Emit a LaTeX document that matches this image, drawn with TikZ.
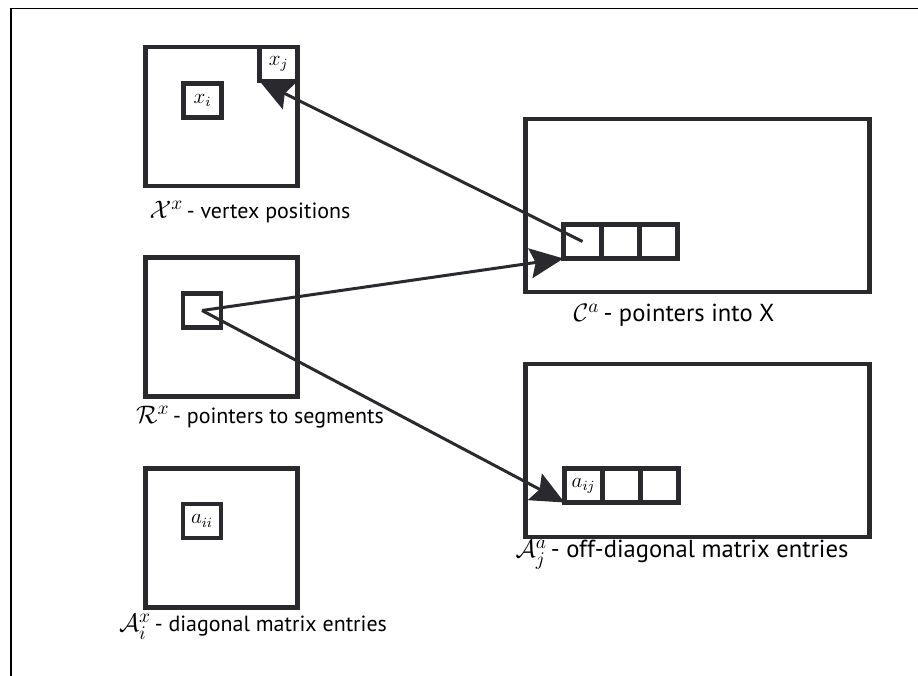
\documentclass[tikz,border=0pt]{standalone}
\usepackage{amsmath,amssymb}
\usepackage{fontspec}
\setmainfont{PT Sans}
\usepackage{tikz}
\usetikzlibrary{positioning,arrows.meta}
\definecolor{ink}{HTML}{2A2A2E}
\newcommand{\setname}[1]{{\fontsize{15.5}{16}\selectfont$#1$}}

\begin{document}
\begin{tikzpicture}[
  boxline/.style={draw=ink,line width=2.8pt,inner sep=0pt,outer sep=0pt},
  store/.style={boxline,minimum width=3.04cm,minimum height=2.78cm},
  arraybox/.style={boxline,minimum width=6.88cm,minimum height=3.46cm},
  cell/.style={boxline,line width=2.4pt,minimum width=.76cm,minimum height=.68cm,font=\fontsize{12}{12}\selectfont},
  lbl/.style={font=\fontsize{12.5}{14}\selectfont,inner sep=0pt},
  widelbl/.style={lbl,font=\fontsize{14}{16}\selectfont},
  ptr/.style={draw=ink,line width=1.7pt,-{Stealth[length=19pt,width=17pt,inset=3pt]}}]
\useasboundingbox (0,0) rectangle (18.36,13.52);
\draw[black,line width=1.1pt] (18.36,13.35)--(.22,13.35)--(.22,0);
% vertex side
\node[store] (X) at (4.43,11.19) {};\node[cell] (xi) at (4.05,11.51) {$x_i$};
\node[cell,anchor=north east] (xj) at (X.north east) {$x_j$};
\node[store] (R) at (4.43,6.98) {};\node[cell] (ri) at (4.04,7.31) {};
\node[store] (Ai) at (4.43,2.76) {};\node[cell] (aii) at (4.04,3.10) {$a_{ii}$};
\node[lbl] (Xl) at (5.0,9.28) {\setname{\mathcal{X}^x}\,- vertex positions};
\node[lbl] (Rl) at (5.2,5.18) {\setname{\mathcal{R}^x}\,- pointers to segments};
\node[lbl] (Ail) at (5.06,.98) {\setname{\mathcal{A}_i^x}\,- diagonal matrix entries};
% segment side
\node[arraybox] (C) at (13.95,9.41) {};
\node[cell] (c1) at (11.65,8.69) {};\node[cell,right=0pt of c1] (c2) {};\node[cell,right=0pt of c2] (c3) {};
\node[arraybox] (Aj) at (13.95,4.51) {};
\node[cell] (a1) at (11.67,3.81) {$a_{ij}$};\node[cell,right=0pt of a1] (a2) {};\node[cell,right=0pt of a2] (a3) {};
\node[widelbl] (Cl) at (13.48,7.22) {\setname{\mathcal{C}^a}\,- pointers into X};
\node[widelbl] (Ajl) at (13.64,2.42) {\setname{\mathcal{A}_j^a}\,- off-diagonal matrix entries};
\draw[ptr] (c1.center)--(xj.south west);
\draw[ptr] (ri.center)--(c1.south west);\draw[ptr] (ri.center)--(a1.south west);
\end{tikzpicture}
\end{document}
